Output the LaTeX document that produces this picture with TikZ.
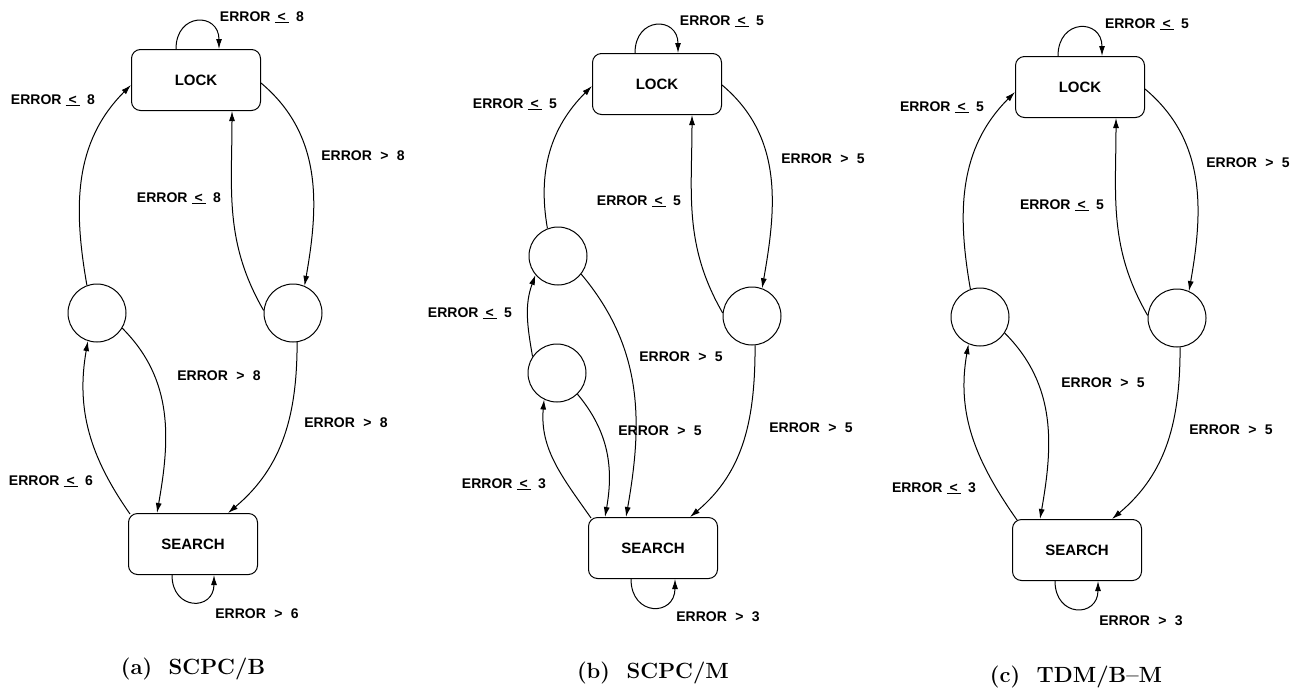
\documentclass[tikz,border=0pt]{standalone}
\usepackage{fontspec}
\newfontfamily\labfont{Liberation Sans}
\usetikzlibrary{arrows.meta}
\newcommand{\errle}[1]{ERROR\hspace{0.3em}\underline{\hspace{0.2em}<\hspace{0.2em}}\hspace{0.55em}#1}
\newcommand{\errgt}[1]{ERROR\hspace{0.6em}>\hspace{0.6em}#1}
\newcommand{\tlabfont}{\labfont\bfseries\fontsize{14}{16}\selectfont}
\tikzset{
  statebox/.style={draw, line width=1pt, rounded corners=9pt, minimum width=129pt,
    minimum height=61pt, inner sep=0pt, font=\labfont\bfseries\fontsize{15}{17}\selectfont},
  waitst/.style={draw, line width=1pt, circle, minimum size=58pt, inner sep=0pt},
  trans/.style={-{Latex[length=10pt,width=6pt]}, line width=1pt},
  tlab/.style={font=\tlabfont, inner sep=0pt, text height=10pt, text depth=0pt},
  caplab/.style={font=\bfseries\fontsize{22}{26}\selectfont, inner sep=0pt},
}

\begin{document}
\begin{tikzpicture}[x=1pt, y=1pt]
  \useasboundingbox (0,0) rectangle (1304,-689);
  % (a) SCPC/B
  \node[statebox] (lockA) at (196,-80) {LOCK};
  \node[statebox] (srchA) at (193,-544) {SEARCH};
  \node[waitst] (cA1) at (97,-313) {};
  \node[waitst] (cA2) at (293,-313) {};
  \draw[trans] ([xshift=-20pt]lockA.north) to[out=90,in=90,looseness=2.2] ([xshift=23pt]lockA.north);
  \draw[trans] (cA1.110) to[out=100,in=225] ([yshift=-5pt]lockA.west);
  \draw[trans] (cA2.175) to[out=120,in=-90] ([xshift=36pt]lockA.south);
  \draw[trans] ([yshift=-3pt]lockA.east) to[out=-40,in=80] (cA2.67);
  \draw[trans] (cA1.-31) to[out=-45,in=80] ([xshift=-36pt]srchA.north);
  \draw[trans] ([xshift=2pt,yshift=-1pt]srchA.north west) to[out=125,in=-100] (cA1.-108);
  \draw[trans] (cA2.-82) to[out=-90,in=40] ([xshift=35pt]srchA.north);
  \draw[trans] ([xshift=-21pt]srchA.south) to[out=-90,in=-90,looseness=2.2] ([xshift=21pt]srchA.south);
  \node[tlab] (la1) at (262,-16) {\errle{8}};
  \node[tlab] (la2) at (53,-99) {\errle{8}};
  \node[tlab] (la3) at (179,-197) {\errle{8}};
  \node[tlab] (la4) at (363,-155) {\errgt{8}};
  \node[tlab] (la5) at (219,-375) {\errgt{8}};
  \node[tlab] (la6) at (346,-422) {\errgt{8}};
  \node[tlab] (la7) at (51,-480) {\errle{6}};
  \node[tlab] (la8) at (257,-613) {\errgt{6}};
  \node[caplab] (capA) at (193,-669) {(a)\hspace{0.75em}SCPC/B};
  % (b) SCPC/M
  \node[statebox] (lockB) at (657,-84) {LOCK};
  \node[statebox] (srchB) at (653,-548) {SEARCH};
  \node[waitst] (cB1) at (558,-256) {};
  \node[waitst] (cB2) at (557,-373) {};
  \node[waitst] (cB3) at (752,-316) {};
  \draw[trans] ([xshift=-22pt]lockB.north) to[out=90,in=90,looseness=2.2] ([xshift=21pt]lockB.north);
  \draw[trans] (cB1.111) to[out=100,in=225] ([yshift=-2pt]lockB.west);
  \draw[trans] (cB3.174) to[out=120,in=-90] ([xshift=35pt]lockB.south);
  \draw[trans] ([yshift=-1pt]lockB.east) to[out=-40,in=80] (cB3.70);
  \draw[trans] (cB1.-38) to[out=-50,in=80] ([xshift=-27pt]srchB.north);
  \draw[trans] (cB2.-46) to[out=-50,in=80] ([xshift=-48pt]srchB.north);
  \draw[trans] ([xshift=3pt,yshift=-1pt]srchB.north west) to[out=125,in=-95] (cB2.-116);
  \draw[trans] (cB2.146) to[out=100,in=-110] (cB1.-140);
  \draw[trans] (cB3.-84) to[out=-90,in=40] ([xshift=37pt]srchB.north);
  \draw[trans] ([xshift=-22pt]srchB.south) to[out=-90,in=-90,looseness=2.2] ([xshift=22pt]srchB.south);
  \node[tlab] (lb1) at (722,-20) {\errle{5}};
  \node[tlab] (lb2) at (515,-103) {\errle{5}};
  \node[tlab] (lb3) at (639,-200) {\errle{5}};
  \node[tlab] (lb4) at (823,-158) {\errgt{5}};
  \node[tlab] (lb5) at (470,-312) {\errle{5}};
  \node[tlab] (lb6) at (681,-356) {\errgt{5}};
  \node[tlab] (lb7) at (660,-430) {\errgt{5}};
  \node[tlab] (lb8) at (504,-483) {\errle{3}};
  \node[tlab] (lb9) at (811,-427) {\errgt{5}};
  \node[tlab] (lb10) at (718,-616) {\errgt{3}};
  \node[caplab] (capB) at (653,-673) {(b)\hspace{0.75em}SCPC/M};
  % (c) TDM/B-M
  \node[statebox] (lockC) at (1080,-87) {LOCK};
  \node[statebox] (srchC) at (1077,-550) {SEARCH};
  \node[waitst] (cC1) at (980,-317) {};
  \node[waitst] (cC2) at (1177,-318) {};
  \draw[trans] ([xshift=-22pt]lockC.north) to[out=90,in=90,looseness=2.2] ([xshift=22pt]lockC.north);
  \draw[trans] (cC1.109) to[out=100,in=225] ([yshift=-5pt]lockC.west);
  \draw[trans] (cC2.175) to[out=120,in=-90] ([xshift=36pt]lockC.south);
  \draw[trans] ([yshift=-2pt]lockC.east) to[out=-40,in=80] (cC2.66);
  \draw[trans] (cC1.-33) to[out=-45,in=80] ([xshift=-37pt]srchC.north);
  \draw[trans] ([xshift=5pt,yshift=-1pt]srchC.north west) to[out=125,in=-100] (cC1.-113);
  \draw[trans] (cC2.-84) to[out=-90,in=40] ([xshift=35pt]srchC.north);
  \draw[trans] ([xshift=-22pt]srchC.south) to[out=-90,in=-90,looseness=2.2] ([xshift=21pt]srchC.south);
  \node[tlab] (lc1) at (1147,-23) {\errle{5}};
  \node[tlab] (lc2) at (942,-106) {\errle{5}};
  \node[tlab] (lc3) at (1062,-204) {\errle{5}};
  \node[tlab] (lc4) at (1248,-162) {\errgt{5}};
  \node[tlab] (lc5) at (1103,-382) {\errgt{5}};
  \node[tlab] (lc6) at (1231,-429) {\errgt{5}};
  \node[tlab] (lc7) at (934,-487) {\errle{3}};
  \node[tlab] (lc8) at (1141,-620) {\errgt{3}};
  \node[caplab] (capC) at (1076,-677) {(c)\hspace{0.75em}TDM/B--M};
\end{tikzpicture}
\end{document}
